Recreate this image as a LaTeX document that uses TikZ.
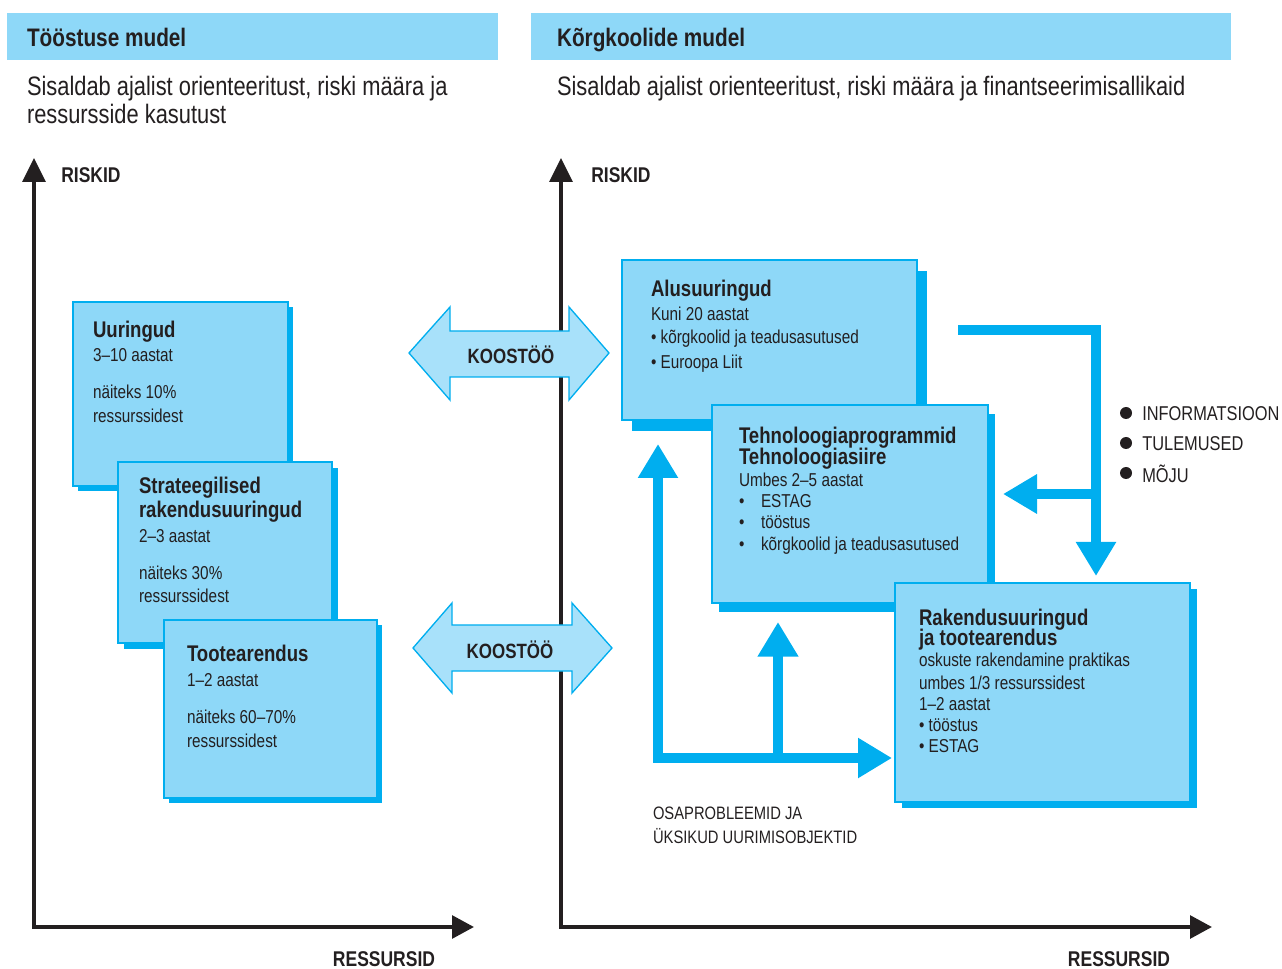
\documentclass[tikz,border=0pt]{standalone}
\usepackage{fontspec}
\setmainfont{Liberation Sans}[FakeStretch=0.82]
\usetikzlibrary{arrows.meta,shadows}
\definecolor{lb}{HTML}{8ED8F8}
\definecolor{cy}{HTML}{00AEEF}
\definecolor{ab}{HTML}{A8E1FA}
\definecolor{ink}{HTML}{231F20}
\begin{document}
\begin{tikzpicture}[x=0.75pt,y=-0.75pt,
  ln/.style={anchor=base west, inner sep=0pt, outer sep=0pt, text=ink},
  hd/.style={ln, font=\fontsize{19}{22}\selectfont\bfseries},
  sub/.style={ln, font=\fontsize{20}{24}\selectfont},
  bt/.style={ln, font=\fontsize{17}{20}\selectfont\bfseries},
  st/.style={ln, font=\fontsize{14}{17}\selectfont},
  axl/.style={inner sep=0pt, text=ink, font=\fontsize{16}{19}\selectfont\bfseries},
  capt/.style={ln, font=\fontsize{13.5}{16}\selectfont},
  lab/.style={anchor=west, inner sep=0pt, text=ink, font=\fontsize{15}{18}\selectfont},
  boxn/.style={draw=cy, line width=1.2pt, fill=lb, inner sep=0pt, outer sep=0pt, anchor=north west},
  shd/.style 2 args={drop shadow={shadow xshift=#1, shadow yshift=#2, fill=cy, opacity=1}},
  axis/.style={draw=ink, line width=3pt, line join=miter, {Triangle[length=18pt,width=17pt]}-{Triangle[length=16.5pt,width=17pt]}},
  flow/.style={draw=cy, line width=7.5pt, line join=miter},
  dbl/.style={draw=cy, line width=1pt, fill=ab, line join=miter},
  kt/.style={anchor=base, inner sep=0pt, text=ink, font=\fontsize{15.5}{18}\selectfont\bfseries},
  bul/.style={fill=ink, circle, inner sep=0pt, minimum size=9pt}
]
\useasboundingbox (0,0) rectangle (1282,969);

% headers
\fill[lb] (7,13) rectangle (498,60);
\fill[lb] (531,13) rectangle (1231,60);
\node[hd] (h1) at (27,47) {Tööstuse mudel};
\node[hd] (h2) at (557,47) {Kõrgkoolide mudel};
\node[sub] (s1) at (27,96) {Sisaldab ajalist orienteeritust, riski määra ja};
\node[sub] (s2) at (27,124) {ressursside kasutust};
\node[sub] (s3) at (557,96) {Sisaldab ajalist orienteeritust, riski määra ja finantseerimisallikaid};

% axes
\coordinate (ly) at (34,158);
\coordinate (lo) at (34,927);
\coordinate (lx) at (474,927);
\coordinate (ry) at (561,158);
\coordinate (ro) at (561,927);
\coordinate (rx) at (1212,927);
\draw[axis] (ly) -- (lo) -- (lx);
\draw[axis] (ry) -- (ro) -- (rx);
\node[axl, anchor=base west] (rk1) at (61,183) {RISKID};
\node[axl, anchor=base west] (rk2) at (591,183) {RISKID};
\node[axl, anchor=base] (rs1) at (384,966) {RESSURSID};
\node[axl, anchor=base] (rs2) at (1119,966) {RESSURSID};

% left boxes
\node[boxn, shd={3.75pt}{-3.75pt}, minimum width=161.25pt, minimum height=138pt] (b1) at (73,302) {};
\node[bt] (b1a) at (93,338) {Uuringud};
\node[st] (b1b) at (93,362) {3–10 aastat};
\node[st] (b1c) at (93,399) {näiteks 10\%};
\node[st] (b1d) at (93,423) {ressurssidest};

\node[boxn, shd={4.2pt}{-4.2pt}, minimum width=160.5pt, minimum height=135.75pt] (b2) at (118,462) {};
\node[bt] (b2a) at (139,494) {Strateegilised};
\node[bt] (b2b) at (139,518) {rakendusuuringud};
\node[st] (b2c) at (139,543) {2–3 aastat};
\node[st] (b2d) at (139,580) {näiteks 30\%};
\node[st] (b2e) at (139,603) {ressurssidest};

\node[boxn, shd={3.75pt}{-3.75pt}, minimum width=159.75pt, minimum height=133.5pt] (b3) at (164,620) {};
\node[bt] (b3a) at (187,662) {Tootearendus};
\node[st] (b3b) at (187,686) {1–2 aastat};
\node[st] (b3c) at (187,723) {näiteks 60–70\%};
\node[st] (b3d) at (187,747) {ressurssidest};

% double arrows
\draw[dbl] (409,353) -- (450,307) -- (450,331) -- (569,331) -- (569,307) -- (609,353)
  -- (569,400) -- (569,377) -- (450,377) -- (450,400) -- cycle;
\node[kt] (k1) at (511,364) {KOOSTÖÖ};
\draw[dbl] (413,648) -- (452,603) -- (452,625) -- (572,625) -- (572,603) -- (612,648)
  -- (572,693) -- (572,671) -- (452,671) -- (452,693) -- cycle;
\node[kt] (k2) at (510,658) {KOOSTÖÖ};

% right boxes
\node[boxn, shd={7.5pt}{-8pt}, minimum width=221.25pt, minimum height=120pt] (r1) at (622,260) {};
\node[bt] (r1a) at (651,297) {Alusuuringud};
\node[st] (r1b) at (651,321) {Kuni 20 aastat};
\node[st] (r1c) at (651,344) {• kõrgkoolid ja teadusasutused};
\node[st] (r1d) at (651,369) {• Euroopa Liit};

\node[boxn, shd={5.5pt}{-7pt}, minimum width=207pt, minimum height=148.5pt] (r2) at (712,405) {};
\node[bt] (r2a) at (739,444) {Tehnoloogiaprogrammid};
\node[bt] (r2b) at (739,465) {Tehnoloogiasiire};
\node[st] (r2c) at (739,487) {Umbes 2–5 aastat};
\node[st] (r2d) at (739,508) {\hbox to 16.5pt{•\hfil}ESTAG};
\node[st] (r2e) at (739,529) {\hbox to 16.5pt{•\hfil}tööstus};
\node[st] (r2f) at (739,551) {\hbox to 16.5pt{•\hfil}kõrgkoolid ja teadusasutused};

\node[boxn, shd={5.25pt}{-4.5pt}, minimum width=221.25pt, minimum height=164.25pt] (r3) at (895,583) {};
\node[bt] (r3a) at (919,625) {Rakendusuuringud};
\node[bt] (r3b) at (919,645) {ja tootearendus};
\node[st] (r3c) at (919,667) {oskuste rakendamine praktikas};
\node[st] (r3d) at (919,689) {umbes 1/3 ressurssidest};
\node[st] (r3e) at (919,710) {1–2 aastat};
\node[st] (r3f) at (919,731) {• tööstus};
\node[st] (r3g) at (919,752) {• ESTAG};

% flow arrows
\coordinate (fa) at (958,330);
\coordinate (fb) at (1096,330);
\coordinate (fc) at (1096,576);
\coordinate (fd) at (1096,494);
\coordinate (fe) at (1003,494);
\draw[flow, -{Triangle[length=25.5pt,width=28.5pt]}] (fa) -- (fb) -- (fc);
\draw[flow, -{Triangle[length=25.5pt,width=28pt]}] (fd) -- (fe);

\coordinate (ga) at (658,444);
\coordinate (gb) at (658,758);
\coordinate (gc) at (892,758);
\coordinate (gd) at (778,758);
\coordinate (ge) at (778,622);
\draw[flow, {Triangle[length=25.5pt,width=28.5pt]}-{Triangle[length=25.5pt,width=28.5pt]}] (ga) -- (gb) -- (gc);
\draw[flow, -{Triangle[length=26pt,width=29pt]}] (gd) -- (ge);

% labels
\node[bul] (d1) at (1126,413) {};
\node[bul] (d2) at (1126,443) {};
\node[bul] (d3) at (1126,473) {};
\node[lab] (l1) at (1142,414) {INFORMATSIOON};
\node[lab] (l2) at (1142,444) {TULEMUSED};
\node[lab] (l3) at (1142,474) {MÕJU};
\node[capt] (c1) at (653,819) {OSAPROBLEEMID JA};
\node[capt] (c2) at (653,843) {ÜKSIKUD UURIMISOBJEKTID};
\end{tikzpicture}
\end{document}
